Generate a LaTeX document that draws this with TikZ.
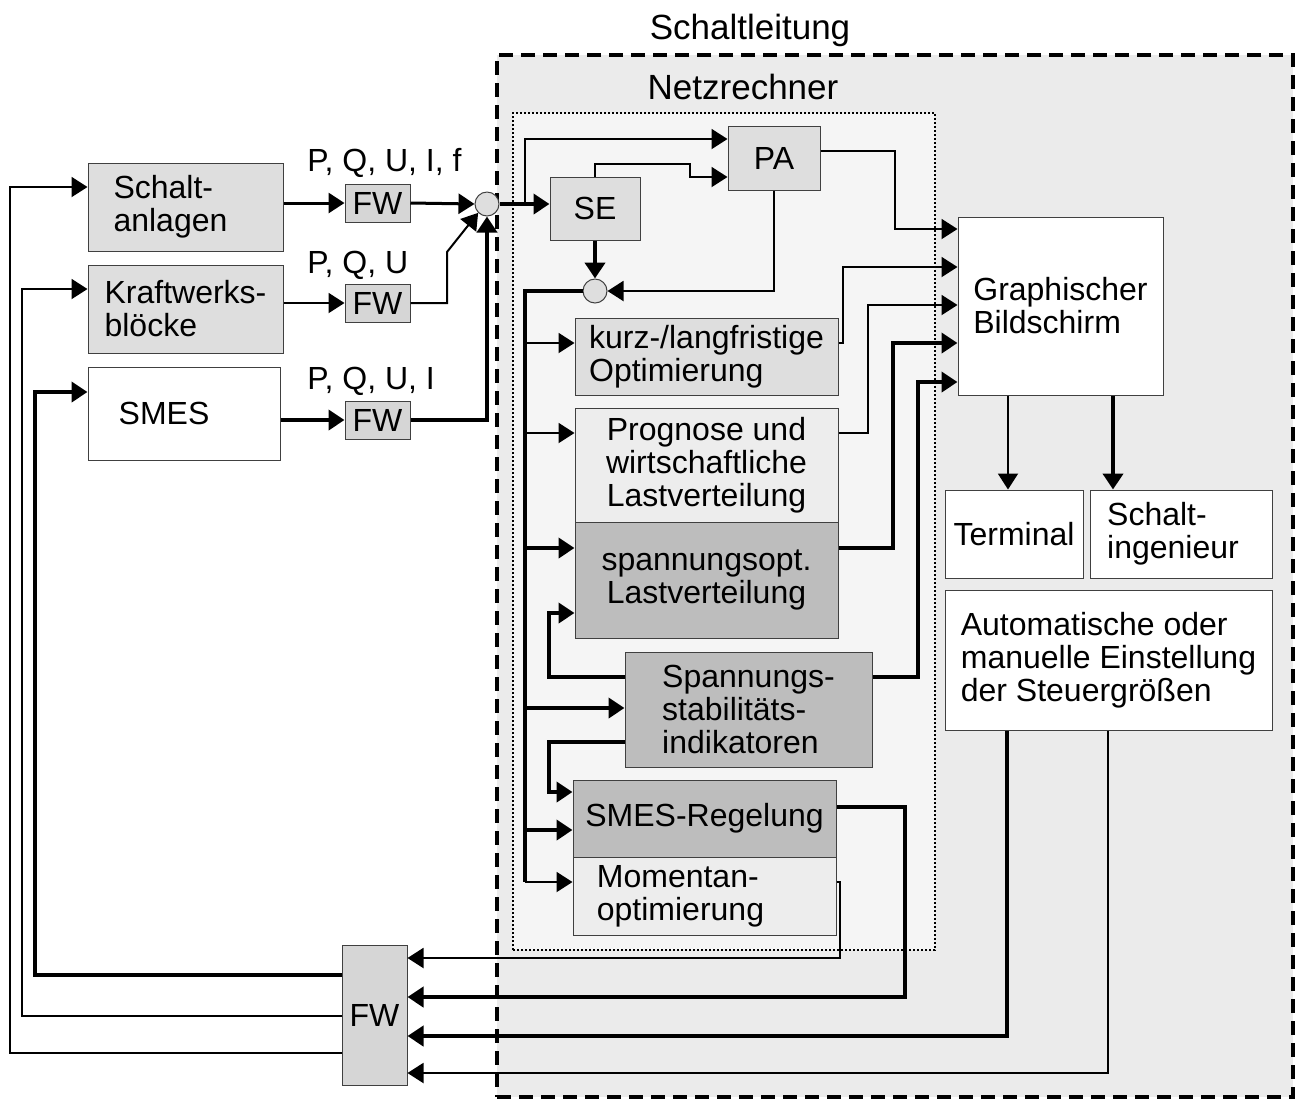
\documentclass[tikz,border=0pt]{standalone}
\usepackage{fontspec}
\setmainfont{Liberation Sans}
\usetikzlibrary{arrows.meta}
\definecolor{bgout}{gray}{0.92}
\definecolor{bgin}{gray}{0.96}
\definecolor{gA}{gray}{0.87}
\definecolor{gB}{gray}{0.93}
\definecolor{gC}{gray}{0.74}
\definecolor{fwc}{gray}{0.84}
\newcommand\boxfont{\fontsize{16}{16.5}\selectfont}
\newcommand\titlefont{\fontsize{17.5}{18}\selectfont}
\newcommand\mybox[7]{\node[box,#1,minimum width={(#4-#3)*0.5pt},minimum height={(#6-#5)*0.5pt}] (#2) at ({(#3+#4)/2},{(#5+#6)/2}) {#7};}
\begin{document}
\begin{tikzpicture}[x=0.5pt,y=-0.5pt,
  box/.style={draw=black!75, line width=0.5pt, inner sep=2pt, font=\boxfont},
  arr/.style={-{Triangle[length=8pt,width=10pt]}},
  thinl/.style={line width=1pt},
  medl/.style={line width=1.5pt},
  thickl/.style={line width=2.3pt},
  junction/.style={circle, draw=black!75, line width=0.5pt, fill=gA, minimum size=12pt, inner sep=0pt},
  lbl/.style={font=\boxfont, inner sep=0pt, anchor=west}
]
\useasboundingbox (0,0) rectangle (1297,1100);
% frames
\node[draw, dash pattern=on 7pt off 4pt, line width=2pt, fill=bgout, minimum width={(1293-497)*0.5pt}, minimum height={(1097-55)*0.5pt}, inner sep=0pt] (leit) at (895,576) {};
\node[draw, densely dotted, line width=1pt, fill=bgin, minimum width={(935-513)*0.5pt}, minimum height={(950-113)*0.5pt}, inner sep=0pt] (netz) at (724,531.5) {};
\node[font=\titlefont] (leitT) at (750,30) {Schaltleitung};
\node[font=\titlefont] (netzT) at (743,87) {Netzrechner};
% left column
\mybox{fill=gA,align=left}{schalt}{88}{283}{163}{251}{Schalt-\\anlagen\hspace*{15pt}}
\mybox{fill=gA,align=left}{kraft}{88}{283}{265}{353}{Kraftwerks-\\blöcke}
\mybox{fill=white}{smes}{88}{280}{367}{460}{SMES\hspace*{20pt}}
\mybox{fill=fwc}{fwA}{345}{410}{184}{222}{FW}
\mybox{fill=fwc}{fwB}{345}{410}{284}{322}{FW}
\mybox{fill=fwc}{fwC}{345}{410}{401}{439}{FW}
\node[lbl] (lA) at (307,163) {P, Q, U, I, f};
\node[lbl] (lB) at (307,265) {P, Q, U};
\node[lbl] (lC) at (307,381) {P, Q, U, I};
\node[junction] (sum1) at (487,204) {};
\node[junction] (sum2) at (595,291) {};
% Netzrechner
\mybox{fill=gA}{se}{550}{640}{177}{240}{SE}
\mybox{fill=gA}{pa}{728}{820}{126}{190}{PA}
\mybox{fill=gA,align=left}{kurz}{575}{838}{318}{395}{kurz-/langfristige\\Optimierung}
\mybox{fill=gB,align=center}{prog}{575}{838}{408}{522}{Prognose und\\wirtschaftliche\\Lastverteilung}
\mybox{fill=gC,align=center}{spopt}{575}{838}{522}{638}{spannungsopt.\\Lastverteilung}
\mybox{fill=gC,align=left}{stab}{625}{872}{652}{767}{Spannungs-\\stabilitäts-\\indikatoren}
\mybox{fill=gC}{smesr}{573}{836}{780}{857}{SMES-Regelung}
\mybox{fill=gB,align=left}{mom}{573}{836}{857}{935}{Momentan-\\optimierung\hspace*{24pt}}
% right side
\mybox{fill=white,align=left}{gb}{958}{1163}{217}{395}{Graphischer\\Bildschirm}
\mybox{fill=white}{term}{945}{1083}{490}{578}{Terminal}
\mybox{fill=white,align=left}{ing}{1090}{1272}{490}{578}{Schalt-\\ingenieur\hspace*{8pt}}
\mybox{fill=white,align=left}{auto}{945}{1272}{590}{730}{Automatische oder\\manuelle Einstellung\\der Steuergrößen}
\mybox{fill=fwc}{fwD}{342}{407}{945}{1085}{FW}
% measurement inputs
\draw[medl,arr] (schalt.east |- fwA) -- (fwA);
\draw[thinl,arr] (kraft.east |- fwB) -- (fwB);
\draw[thickl,arr] (smes.east |- fwC) -- (fwC);
\draw[medl,arr] (fwA.east) -- (sum1.west);
\draw[thinl,arr] (fwB.east) -- (447,303) -- (447,252) -- (sum1.south west);
\draw[thickl,arr] (fwC.east) -| (sum1.south);
% state estimation
\coordinate (br1) at (525,204);
\draw[thickl,arr] (sum1.east) -- (se.west |- sum1);
\draw[thinl,arr] (br1) |- (pa.west |- 0,139);
\draw[thinl,arr] (se.north) |- (690,164) |- (pa.west |- 0,177);
\draw[thickl,arr] (se.south) -- (sum2.north);
\draw[thinl,arr] (pa.south) |- (sum2.east);
\draw[thinl,arr] (pa.east |- 0,151) -| (895,229) -- (gb.west |- 0,229);
% bus
\coordinate (busEnd) at (525,882);
\draw[thickl] (sum2.west) -| (busEnd);
\draw[thinl,arr] (525,343) -- (kurz.west |- 0,343);
\draw[thinl,arr] (525,433) -- (prog.west |- 0,433);
\draw[thickl,arr] (525,548) -- (spopt.west |- 0,548);
\draw[thickl,arr] (525,708) -- (stab.west |- 0,708);
\draw[thickl,arr] (525,830) -- (smesr.west |- 0,830);
\draw[thinl,arr] (busEnd) -- (mom.west |- busEnd);
\draw[thickl,arr] (stab.west |- 0,677) -| (549,613) -- (spopt.west |- 0,613);
\draw[thickl,arr] (stab.west |- 0,742) -| (549,792) -- (smesr.west |- 0,792);
% outputs to display
\draw[thinl,arr] (kurz.east |- 0,343) -| (843,267) -- (gb.west |- 0,267);
\draw[thinl,arr] (prog.east |- 0,433) -| (868,305) -- (gb.west |- 0,305);
\draw[thickl,arr] (spopt.east |- 0,548) -| (893,343) -- (gb.west |- 0,343);
\draw[thickl,arr] (stab.east |- 0,677) -| (918,382) -- (gb.west |- 0,382);
\draw[thinl,arr] (gb.south -| 1008,0) -- (term.north -| 1008,0);
\draw[thickl,arr] (gb.south -| 1113,0) -- (ing.north -| 1113,0);
% commands to FW
\draw[thinl,arr] (mom.east |- 0,882) -| (840,958) -- (fwD.east |- 0,958);
\draw[thickl,arr] (smesr.east |- 0,807) -| (905,997) -- (fwD.east |- 0,997);
\draw[thickl,arr] (auto.south -| 1007,0) |- (fwD.east |- 0,1036);
\draw[thinl,arr] (auto.south -| 1108,0) |- (fwD.east |- 0,1073);
% feedback to plant
\draw[thickl,arr] (fwD.west |- 0,975) -| (35,392) -- (smes.west |- 0,392);
\draw[thinl,arr] (fwD.west |- 0,1016) -| (22,289) -- (kraft.west |- 0,289);
\draw[thinl,arr] (fwD.west |- 0,1053) -| (10,187) -- (schalt.west |- 0,187);
\end{tikzpicture}
\end{document}
